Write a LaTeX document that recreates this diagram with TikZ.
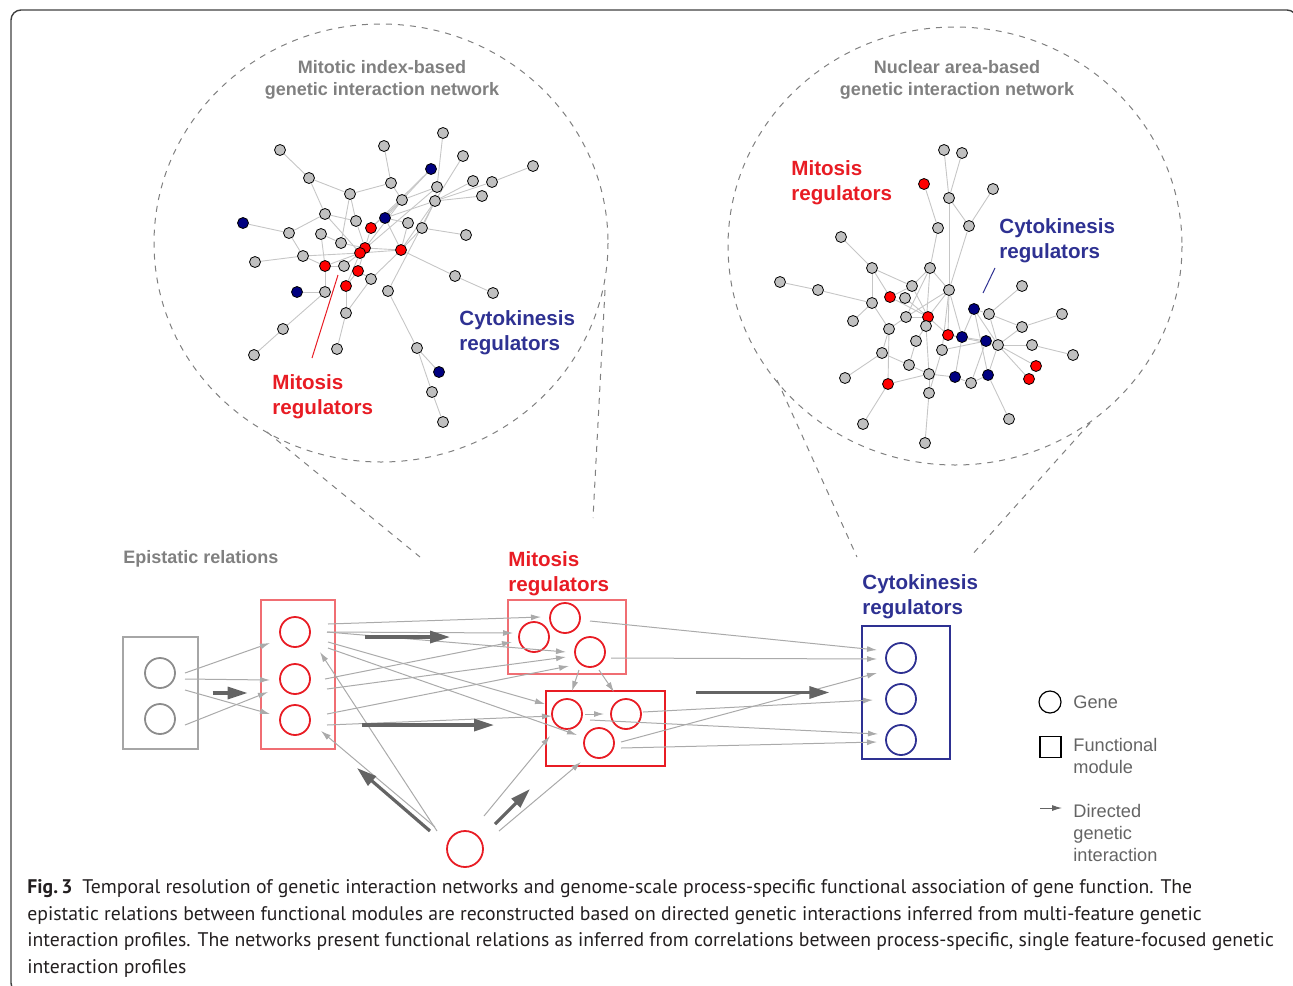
\documentclass[tikz,border=0pt]{standalone}
\usepackage{fontspec}
\setmainfont{Liberation Sans}
\newfontfamily\capfont{PT Sans}
\usetikzlibrary{arrows.meta, positioning, backgrounds}

\definecolor{g}{RGB}{192,192,192}
\definecolor{r}{RGB}{255,0,0}
\definecolor{b}{RGB}{0,0,128}
\definecolor{modred}{RGB}{232,28,36}
\definecolor{modpink}{RGB}{240,110,115}
\definecolor{modblue}{RGB}{46,49,146}
\definecolor{labgray}{RGB}{128,128,128}
\definecolor{arrgray}{RGB}{170,170,170}
\definecolor{thickgray}{RGB}{100,100,100}
\definecolor{capcol}{RGB}{35,31,32}

\tikzset{
	gn/.style={circle, draw=black, line width=0.4pt, inner sep=0pt, minimum size=5.5pt},
	nedge/.style={draw=g!90, line width=0.45pt},
	gene/.style={circle, draw=#1, line width=0.9pt, inner sep=0pt, minimum size=15pt},
	modbox/.style={draw=#1, line width=0.65pt, inner sep=0pt},
	ga/.style={draw=arrgray, line width=0.5pt, -{Latex[length=5pt,width=3pt]}},
	ta/.style={draw=thickgray, line width=1.6pt, -{Triangle[length=10pt,width=6pt]}},
	bubble/.style={draw=labgray, line width=0.5pt, dash pattern=on 3pt off 3pt},
	ttl/.style={text=labgray, font=\bfseries\fontsize{9}{11}\selectfont, align=center},
	reglab/.style={font=\bfseries\fontsize{10.3}{12.7}\selectfont, align=left, anchor=west, inner sep=0pt},
	leg/.style={text=thickgray, font=\fontsize{9.1}{11}\selectfont, align=left, anchor=west, inner sep=0pt},
}

\begin{document}
\begin{tikzpicture}[x=0.5pt, y=-0.5pt]
	\useasboundingbox (0,0) rectangle (1293,985);
	\clip (0,0) rectangle (1293,985);
	\draw[line width=0.7pt, draw=black!75, rounded corners=5pt] (40,993) -- (11,993) -- (11,10) -- (1297,10) -- (1297,40);

	% zoom bubbles
	\draw[bubble] (381,243) ellipse [x radius=227, y radius=219];
	\draw[bubble] (267,432) -- (420,557);
	\draw[bubble] (605,290) -- (593,518);
	\draw[bubble] (955,246) ellipse [x radius=227, y radius=219];
	\draw[bubble] (777,380) -- (857,557);
	\draw[bubble] (1090,423) -- (970,557);

	\node[ttl] (tl) at (382,80) {Mitotic index-based\\genetic interaction network};
	\node[ttl] (tr) at (957,80) {Nuclear area-based\\genetic interaction network};

	% mitotic index network
	\foreach \n/\x/\y/\c in {1/443/133/g, 2/280/150/g, 3/384/146/g, 4/463/156/g, 5/533/166/g, 6/431/169/b, 7/309/178/g, 8/391/183/g, 9/437/187/g, 10/473/181/g,
		11/492/182/g, 12/482/196/g, 13/350/194/g, 14/402/200/g, 15/435/201/g, 16/325/214/g, 17/356/221/g, 18/385/218/b, 19/408/223/g, 20/371/228/r,
		21/422/228/g, 22/466/235/g, 23/243/223/b, 24/289/233/g, 25/321/234/g, 26/341/243/g, 27/365/248/r, 28/360/253/r, 29/401/250/r, 30/303/256/g,
		31/255/262/g, 32/325/266/r, 33/344/266/g, 34/358/271/r, 35/371/279/g, 36/455/276/g, 37/346/286/r, 38/297/292/b, 39/325/292/g, 40/388/291/g,
		41/493/293/g, 42/346/313/g, 43/283/329/g, 44/337/349/g, 45/417/348/g, 46/254/355/g, 47/439/372/b, 48/432/392/g, 49/443/422/g}
		\node[gn, fill=\c] (l\n) at (\x,\y) {};
	\begin{scope}[on background layer]
		\foreach \a/\b in {1/9, 2/7, 3/8, 4/15, 5/11, 11/15, 10/15, 12/15, 6/14, 6/20, 7/13, 7/16, 8/13, 8/14, 9/15, 13/17, 13/26, 14/18, 14/20, 14/27,
			15/18, 15/21, 15/29, 15/40, 16/24, 16/17, 16/28, 18/19, 18/29, 19/29, 20/27, 21/22, 21/29, 23/24, 24/30, 25/26, 25/32, 26/27, 27/29, 27/28,
			27/34, 28/32, 28/33, 28/37, 28/29, 29/36, 29/35, 30/31, 30/32, 32/39, 32/33, 34/37, 34/35, 36/41, 37/42, 35/42, 38/39, 39/43, 43/46, 42/44,
			40/45, 45/47, 45/48, 48/49, 17/27, 30/28, 9/28, 14/9}
			\draw[nedge] (l\a) -- (l\b);
	\end{scope}
	\draw[modred, line width=0.5pt] (338,275) -- (312,358);
	\node[reglab, text=modred] (lmit) at (272,397) {Mitosis\\regulators};
	\node[reglab, text=modblue] (lcyt) at (459,333) {Cytokinesis\\regulators};

	% nuclear area network
	\foreach \n/\x/\y/\c in {1/944/150/g, 2/962/153/g, 3/924/184/r, 4/949/198/g, 5/993/189/g, 6/938/228/g, 7/969/226/g, 8/841/237/g, 9/872/268/g, 10/930/268/g,
		11/780/282/g, 12/818/290/g, 13/912/286/g, 14/949/290/g, 15/1022/286/g, 16/890/297/r, 17/905/298/g, 18/872/303/g, 19/974/309/b, 20/989/314/g,
		21/928/317/r, 22/906/317/g, 23/1062/314/g, 24/853/321/g, 25/926/326/g, 26/889/329/g, 27/1022/327/g, 28/948/335/r, 29/962/337/b, 30/986/341/b,
		31/998/345/g, 32/1032/345/g, 33/916/341/g, 34/942/350/g, 35/882/353/g, 36/1073/355/g, 37/1036/366/r, 38/909/365/g, 39/929/374/g, 40/955/377/b,
		41/971/383/g, 42/988/375/b, 43/1029/379/r, 44/845/378/g, 45/888/384/r, 46/929/393/g, 47/1009/419/g, 48/863/424/g, 49/925/443/g}
		\node[gn, fill=\c] (n\n) at (\x,\y) {};
	\begin{scope}[on background layer]
		\foreach \a/\b in {1/4, 2/4, 3/6, 4/7, 5/7, 4/14, 6/10, 7/14, 8/9, 9/13, 9/16, 9/18, 10/22, 10/25, 10/13, 10/14, 11/12, 12/18, 13/21, 14/21,
			14/28, 14/29, 14/34, 14/22, 15/20, 16/21, 18/26, 18/24, 19/29, 19/20, 19/42, 20/31, 20/27, 23/27, 27/31, 32/36, 31/32, 31/37, 31/43, 31/42,
			31/19, 21/28, 21/22, 21/25, 22/26, 25/33, 25/39, 26/35, 26/45, 28/29, 29/30, 29/40, 30/31, 30/41, 33/38, 35/44, 35/38, 38/39, 39/40, 39/45,
			39/46, 40/41, 41/42, 42/47, 45/48, 46/49, 17/21, 13/16, 28/31, 34/46, 34/30}
			\draw[nedge] (n\a) -- (n\b);
	\end{scope}
	\draw[modblue, line width=0.5pt] (995,268) -- (983,293);
	\node[reglab, text=modred] (rmit) at (791,183) {Mitosis\\regulators};
	\node[reglab, text=modblue] (rcyt) at (999,241) {Cytokinesis\\regulators};

	% epistatic relations
	\node[reglab, text=labgray, font=\bfseries\fontsize{9}{11}\selectfont] (epi) at (123,559) {Epistatic relations};
	\node[reglab, text=modred] (mlab) at (508,574) {Mitosis\\regulators};
	\node[reglab, text=modblue] (clab) at (862,597) {Cytokinesis\\regulators};

	\node[modbox=black!35, minimum width=37.5pt, minimum height=56pt] (mod0) at (160.5,693) {};
	\node[modbox=modpink, minimum width=37pt, minimum height=74.5pt] (mod1) at (298,674.5) {};
	\node[modbox=modpink, minimum width=59pt, minimum height=37pt] (mod2) at (567,637) {};
	\node[modbox=modred, minimum width=59.5pt, minimum height=37.5pt] (mod3) at (605.5,728.5) {};
	\node[modbox=modblue, minimum width=44pt, minimum height=66.5pt] (mod4) at (906,692.5) {};

	\node[gene=black!45] (g1) at (160,673) {};
	\node[gene=black!45] (g2) at (160,719) {};
	\node[gene=modred] (m1) at (295,632) {};
	\node[gene=modred] (m2) at (295,679) {};
	\node[gene=modred] (m3) at (295,720) {};
	\node[gene=modred] (p1) at (565,618) {};
	\node[gene=modred] (p2) at (534,637) {};
	\node[gene=modred] (p3) at (590,652) {};
	\node[gene=modred] (q1) at (567,714) {};
	\node[gene=modred] (q2) at (626,714) {};
	\node[gene=modred] (q3) at (599,743) {};
	\node[gene=modred, minimum size=18pt] (b0) at (465,849) {};
	\node[gene=modblue] (c1) at (901,658) {};
	\node[gene=modblue] (c2) at (901,699) {};
	\node[gene=modblue] (c3) at (901,740) {};

	\draw[ga] ([shift={(25,0)}]g1.center) -- ([shift={(-25,11)}]m1.center);
	\draw[ga] ([shift={(25,6)}]g1.center) -- ([shift={(-25,1)}]m2.center);
	\draw[ga] ([shift={(25,17)}]g1.center) -- ([shift={(-25,-6)}]m3.center);
	\draw[ga] ([shift={(25,6)}]g2.center) -- ([shift={(-27,13)}]m2.center);
	\draw[ga] ([shift={(33,-8)}]m1.center) -- ([shift={(-24,-1)}]p1.center);
	\draw[ga] ([shift={(32,0)}]m1.center) -- ([shift={(-21,-4)}]p2.center);
	\draw[ga] ([shift={(32,0)}]m1.center) -- ([shift={(-24,0)}]p3.center);
	\draw[ga] ([shift={(30,0)}]m2.center) -- ([shift={(-22,5)}]p2.center);
	\draw[ga] ([shift={(32,10)}]m2.center) -- ([shift={(-24,5)}]p3.center);
	\draw[ga] ([shift={(32,-6)}]m3.center) -- ([shift={(-21,14)}]p3.center);
	\draw[ga] ([shift={(33,10)}]m1.center) -- ([shift={(-22,-10)}]q1.center);
	\draw[ga] ([shift={(33,16)}]m1.center) -- ([shift={(-22,-8)}]q3.center);
	\draw[ga] ([shift={(32,5)}]m3.center) -- ([shift={(-15,2)}]q1.center);
	\draw[ga] ([shift={(-11,18)}]p3.center) -- ([shift={(5,-23)}]q1.center);
	\draw[ga] ([shift={(9,18)}]p3.center) -- ([shift={(-12,-22)}]q2.center);
	\draw[ga] ([shift={(18,0)}]q1.center) -- ([shift={(-22,0)}]q2.center);
	\draw[ga] ([shift={(-28,-18)}]b0.center) -- ([shift={(25,20)}]m1.center);
	\draw[ga] ([shift={(-30,-22)}]b0.center) -- ([shift={(26,11)}]m3.center);
	\draw[ga] ([shift={(19,-33)}]b0.center) -- ([shift={(-17,22)}]q1.center);
	\draw[ga] ([shift={(34,-18)}]b0.center) -- ([shift={(-18,19)}]q3.center);
	\draw[ga] ([shift={(25,3)}]p1.center) -- ([shift={(-24,-8)}]c1.center);
	\draw[ga] ([shift={(21,6)}]p3.center) -- ([shift={(-24,1)}]c1.center);
	\draw[ga] ([shift={(22,-1)}]q3.center) -- ([shift={(-24,15)}]c1.center);
	\draw[ga] ([shift={(17,-2)}]q2.center) -- ([shift={(-28,1)}]c2.center);
	\draw[ga] ([shift={(23,6)}]q1.center) -- ([shift={(-23,-6)}]c3.center);
	\draw[ga] ([shift={(22,5)}]q3.center) -- ([shift={(-24,2)}]c3.center);

	\draw[ta] ([shift={(14,0)}]mod0.east) -- ([shift={(49,0)}]mod0.east);
	\draw[ta] ([shift={(70,5)}]m1.center) -- ([shift={(155,5)}]m1.center);
	\draw[ta] ([shift={(67,5)}]m3.center) -- ([shift={(199,5)}]m3.center);
	\draw[ta] ([shift={(-165,0)}]mod4.west) -- ([shift={(-32,0)}]mod4.west);
	\draw[ta] ([shift={(-35,-18)}]b0.center) -- ([shift={(-108,-81)}]b0.center);
	\draw[ta] ([shift={(30,-25)}]b0.center) -- ([shift={(65,-60)}]b0.center);

	% legend
	\node[circle, draw=black, line width=0.6pt, minimum size=11pt, inner sep=0pt] (lgene) at (1050,702) {};
	\node[leg] (tgene) at (1073,702) {Gene};
	\node[draw=black, line width=0.6pt, minimum size=10.5pt, inner sep=0pt] (lmod) at (1050.5,747) {};
	\node[leg] (tmod) at (1073,756) {Functional\\module};
	\coordinate (la) at (1040,808);
	\draw[draw=thickgray, line width=0.5pt, -{Latex[length=5pt,width=3pt]}] (la) -- ([shift={(22,0)}]la);
	\node[leg] (tarr) at (1073,833) {Directed\\genetic\\interaction};

	\node[anchor=north west, inner sep=0pt, align=left, text=capcol, font=\capfont\fontsize{9.85}{13.3}\selectfont] (cap) at (27,879)
		{\textbf{Fig.\,3}\enspace Temporal resolution of genetic interaction networks and genome-scale process-specific functional association of gene function. The\\
		epistatic relations between functional modules are reconstructed based on directed genetic interactions inferred from multi-feature genetic\\
		interaction profiles. The networks present functional relations as inferred from correlations between process-specific, single feature-focused genetic\\
		interaction profiles};
\end{tikzpicture}
\end{document}
